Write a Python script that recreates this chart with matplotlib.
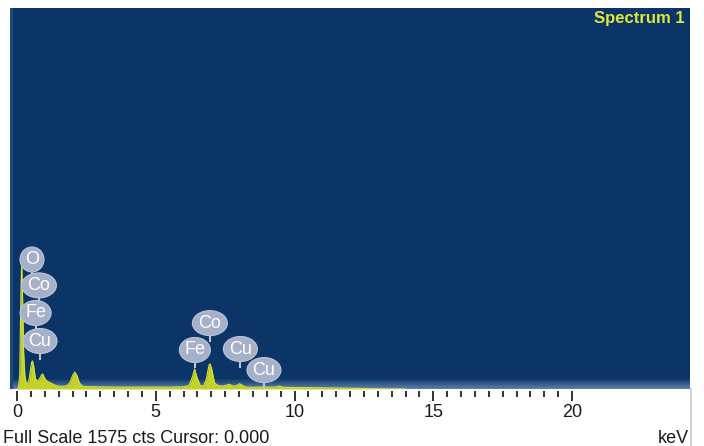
import matplotlib
matplotlib.use("Agg")
import matplotlib.pyplot as plt
from matplotlib.patches import Rectangle, Ellipse
from matplotlib.lines import Line2D
from matplotlib import transforms
import numpy as np

# EDS spectrum: energy (keV) and counts
energy = [0.00, 0.05, 0.10, 0.14, 0.17, 0.20, 0.24, 0.28, 0.32, 0.36, 0.42, 0.48,
          0.53, 0.56, 0.60, 0.66, 0.72, 0.80, 0.88, 0.93, 0.98, 1.05, 1.12, 1.20,
          1.30, 1.40, 1.50, 1.60, 1.70, 1.80, 1.90, 2.00, 2.08, 2.15, 2.25, 2.35,
          2.50, 3.00, 3.50, 4.00, 4.50, 5.00, 5.50, 6.00, 6.20, 6.32, 6.40, 6.48,
          6.60, 6.72, 6.82, 6.92, 6.96, 7.02, 7.12, 7.25, 7.40, 7.55, 7.65, 7.75,
          7.90, 8.02, 8.10, 8.25, 8.50, 8.90, 9.00, 9.30, 9.45, 9.60, 10.0, 11.0,
          12.0, 13.0, 14.0]
counts = [0, 5, 60, 400, 522, 380, 150, 60, 30, 20, 30, 75,
          112, 116, 95, 45, 32, 40, 58, 62, 48, 36, 30, 26,
          20, 14, 12, 11, 12, 14, 25, 55, 70, 58, 25, 12,
          10, 9, 8, 8, 8, 8, 8, 9, 15, 50, 83, 50,
          14, 12, 40, 100, 104, 80, 25, 14, 12, 16, 20, 13,
          13, 22, 16, 8, 7, 9, 8, 8, 12, 7, 6, 5,
          3, 1, 0]

full_scale = 1575

# Element line markers: symbol, energy (keV), marker tip height (counts)
marker_labels = ["O", "Co", "Fe", "Cu", "Co", "Fe", "Cu", "Cu"]
marker_energy = [0.54, 0.79, 0.67, 0.83, 6.95, 6.41, 8.05, 8.90]
marker_tip = [463, 356, 242, 126, 200, 89, 93, 6]

tick_major = [0, 5, 10, 15, 20]

BG = "#0b3467"
FILL = "#c2d22a"
EDGE = "#d6e23c"
BUBBLE = "#a6b0c9"
BUBBLE_EDGE = "#bcc4d8"
FONT = ["Liberation Sans", "DejaVu Sans"]

W, H = 704, 446
fig = plt.figure(figsize=(W / 100, H / 100), dpi=100)
fig.patch.set_facecolor("white")

ax_l, ax_r, ax_t, ax_b = 10, 690, 8, 389
ax = fig.add_axes([ax_l / W, 1 - ax_b / H, (ax_r - ax_l) / W, (ax_b - ax_t) / H])
ax.set_facecolor(BG)

x_lo = -7 / 27.75
x_hi = x_lo + (ax_r - ax_l) / 27.75
ax.set_xlim(x_lo, x_hi)
ax.set_ylim(0, full_scale)

# lighter band along the bottom edge of the plot
n_rows = 10
top_c = np.array(matplotlib.colors.to_rgb(BG))
bot_c = np.array([0.36, 0.49, 0.66])
row_h = 1.0 / (ax_b - ax_t)
for i in range(n_rows):
    t = (i + 1) / n_rows
    c = top_c * (1 - t) + bot_c * t
    ax.add_patch(Rectangle((0, (n_rows - 1 - i) * row_h), 1, row_h,
                           transform=ax.transAxes, color=c, lw=0, zorder=0.5))
# slightly lighter strip on the left edge
ax.add_patch(Rectangle((0, 0), 2.5 / (ax_r - ax_l), 1, transform=ax.transAxes,
                       color="#1f4a80", lw=0, zorder=0.6))

ax.fill_between(energy, counts, 0, color=FILL, lw=0, zorder=2)
ax.plot(energy, counts, color=EDGE, lw=0.8, zorder=2.1)

# element label bubbles (pixel-sized ellipses) with short stems
bub_h = 25
stem = 5
bub_w = {"O": 24, "Co": 35, "Fe": 31, "Cu": 34}
for lab, e, tip in zip(marker_labels, marker_energy, marker_tip):
    cy = stem + bub_h / 2
    anchor = transforms.ScaledTranslation(e, tip, ax.transData)
    ax.add_line(Line2D([0, 0], [0, stem + 2], transform=anchor,
                       color=BUBBLE_EDGE, lw=1.5, zorder=5))
    ax.add_patch(Ellipse((0, cy), bub_w[lab], bub_h, transform=anchor,
                         fc=BUBBLE, ec=BUBBLE_EDGE, lw=0.8, zorder=5.1))
    ax.annotate(lab, xy=(e, tip), xytext=(0, cy), textcoords="offset pixels",
                ha="center", va="center", color="white", fontsize=13,
                family=FONT, zorder=5.2)

ax.text(0.9915, 0.972, "Spectrum 1", transform=ax.transAxes, ha="right",
        va="center", color="#e2e63a", fontsize=12, fontweight="bold",
        family=FONT)

for s in ax.spines.values():
    s.set_visible(False)
ax.spines["bottom"].set_position(("outward", 1.5))
ax.set_yticks([])
ax.set_xticks(tick_major)
ax.set_xticklabels([str(t) for t in tick_major], fontsize=13, family=FONT,
                   color="#1a1a1a")
ax.set_xticks(np.arange(0, 20.01, 0.5), minor=True)
ax.tick_params(axis="x", which="major", length=7, width=1.3, color="#222222",
               direction="out", pad=2)
ax.tick_params(axis="x", which="minor", length=4.5, width=1.3, color="#222222",
               direction="out")

fig.text(3 / W, 1 - 443 / H, "Full Scale 1575 cts Cursor: 0.000", ha="left",
         va="baseline", fontsize=13, family=FONT, color="#1a1a1a")
fig.text(689 / W, 1 - 443 / H, "keV", ha="right", va="baseline", fontsize=13,
         family=FONT, color="#1a1a1a")

# thin grey rule along the right edge
fig.add_artist(Line2D([690.5 / W, 690.5 / W], [0, 1 - ax_b / H],
                      transform=fig.transFigure, color="#c8c8c8", lw=1.2))

fig.savefig("out.png", dpi=100, facecolor="white")
